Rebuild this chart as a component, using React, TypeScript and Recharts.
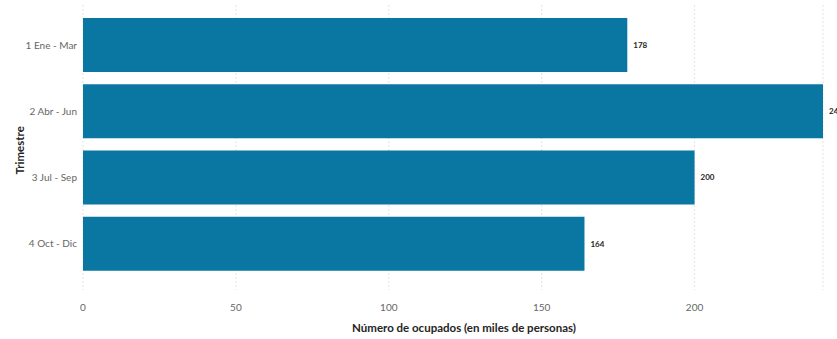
import { BarChart, Bar, XAxis, YAxis, CartesianGrid, LabelList } from "recharts";

const trimestres = ["1 Ene - Mar", "2 Abr - Jun", "3 Jul - Sep", "4 Oct - Dic"];
const ocupados = [178, 242, 200, 164];
const xTicks = [0, 50, 100, 150, 200];

const data = trimestres.map((t, i) => ({ trimestre: t, ocupados: ocupados[i] }));

const FONT = "Lato, 'Open Sans', sans-serif";

export default function App() {
    return (
        <div style={{ position: "absolute", left: 0, top: 0, width: 837, height: 339, background: "#fff", fontFamily: FONT }}>
            <BarChart
                width={837}
                height={339}
                data={data}
                layout="vertical"
                margin={{ top: 5, right: 14, bottom: 0, left: 0 }}
                barCategoryGap={6}
            >
                <CartesianGrid horizontal={false} stroke="#e3e3e3" strokeDasharray="2 2" />
                <XAxis
                    type="number"
                    dataKey="ocupados"
                    domain={[0, "dataMax"]}
                    ticks={xTicks}
                    height={49}
                    axisLine={false}
                    tickLine={false}
                    tickSize={0}
                    tickMargin={14}
                    tick={{ fontSize: 10, fill: "#666", fontFamily: FONT }}
                    label={{
                        value: "Número de ocupados (en miles de personas)",
                        position: "insideBottom",
                        offset: 7,
                        dx: 11,
                        fontSize: 11.5,
                        fontWeight: 700,
                        fill: "#252423",
                        fontFamily: FONT,
                    }}
                />
                <YAxis
                    type="category"
                    dataKey="trimestre"
                    width={83}
                    axisLine={false}
                    tickLine={false}
                    tickSize={0}
                    tickMargin={6}
                    padding={{ top: 7, bottom: 13 }}
                    tick={{ fontSize: 10, fill: "#666", fontFamily: FONT }}
                    label={{
                        value: "Trimestre",
                        angle: -90,
                        position: "insideLeft",
                        offset: 20,
                        dy: 27,
                        fontSize: 11.5,
                        fontWeight: 700,
                        fill: "#252423",
                        fontFamily: FONT,
                    }}
                />
                <Bar dataKey="ocupados" fill="#0a76a2" isAnimationActive={false}>
                    <LabelList
                        dataKey="ocupados"
                        position="right"
                        offset={6}
                        style={{ fontSize: 8, fontWeight: 700, fill: "#252423", fontFamily: FONT }}
                    />
                </Bar>
            </BarChart>
        </div>
    );
}
